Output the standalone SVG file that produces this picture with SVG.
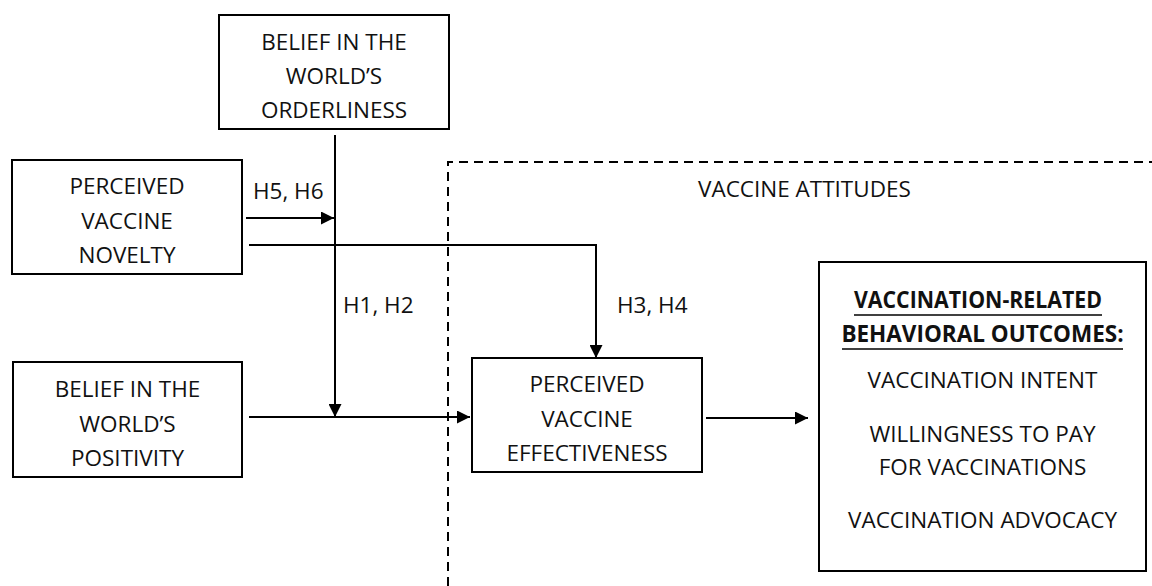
<svg xmlns="http://www.w3.org/2000/svg" width="1152" height="586" viewBox="0 0 1152 586">
<defs>
<marker id="arr" markerUnits="userSpaceOnUse" markerWidth="13" markerHeight="13" refX="13" refY="6.5" orient="auto">
<path d="M0,0 L13,6.5 L0,13 z" fill="#000"/>
</marker>
<style>
text{font-family:"Open Sans","Liberation Sans",sans-serif;font-size:22.5px;fill:#111;text-anchor:middle}
.box{fill:#fff;stroke:#000;stroke-width:2}
.ln{fill:none;stroke:#000;stroke-width:2}
.lbl{text-anchor:start}
.b{font-weight:bold}
</style>
</defs>
<rect width="1152" height="586" fill="#fff"/>
<g id="attitudes-region">
<path d="M448,586 V162 H1152" fill="none" stroke="#000" stroke-width="2" stroke-dasharray="9 6"/>
<text class="lbl" x="698" y="197">VACCINE ATTITUDES</text>
</g>
<g id="connectors">
<path class="ln" d="M335,135 V417" marker-end="url(#arr)"/>
<path class="ln" d="M246,218 H334" marker-end="url(#arr)"/>
<path class="ln" d="M249,245 H596 V358" marker-end="url(#arr)"/>
<path class="ln" d="M249,417 H470" marker-end="url(#arr)"/>
<path class="ln" d="M706,418 H808" marker-end="url(#arr)"/>
<text class="lbl" x="253" y="199">H5, H6</text>
<text class="lbl" x="343" y="313">H1, H2</text>
<text class="lbl" x="617" y="313">H3, H4</text>
</g>
<g id="orderliness">
<rect class="box" x="219" y="15" width="230" height="114"/>
<text x="334" y="50">BELIEF IN THE</text>
<text x="334" y="84">WORLD’S</text>
<text x="334" y="118">ORDERLINESS</text>
</g>
<g id="novelty">
<rect class="box" x="12" y="160" width="230" height="114"/>
<text x="127" y="194">PERCEIVED</text>
<text x="127" y="229">VACCINE</text>
<text x="127" y="263">NOVELTY</text>
</g>
<g id="positivity">
<rect class="box" x="13" y="362" width="229" height="115"/>
<text x="127.5" y="397">BELIEF IN THE</text>
<text x="127.5" y="432">WORLD’S</text>
<text x="127.5" y="466">POSITIVITY</text>
</g>
<g id="effectiveness">
<rect class="box" x="472" y="358" width="230" height="114"/>
<text x="587" y="392">PERCEIVED</text>
<text x="587" y="427">VACCINE</text>
<text x="587" y="461">EFFECTIVENESS</text>
</g>
<g id="outcomes">
<rect class="box" x="819" y="262" width="327" height="309"/>
<text class="b" x="978" y="308" textLength="248" lengthAdjust="spacingAndGlyphs">VACCINATION-RELATED</text>
<line x1="854" y1="315" x2="1102" y2="315" stroke="#000" stroke-width="1.5"/>
<text class="b" x="982.5" y="342">BEHAVIORAL OUTCOMES:</text>
<line x1="842" y1="349" x2="1123" y2="349" stroke="#000" stroke-width="1.5"/>
<text x="982.5" y="388">VACCINATION INTENT</text>
<text x="982.5" y="442">WILLINGNESS TO PAY</text>
<text x="982.5" y="475">FOR VACCINATIONS</text>
<text x="982.5" y="528">VACCINATION ADVOCACY</text>
</g>
</svg>
